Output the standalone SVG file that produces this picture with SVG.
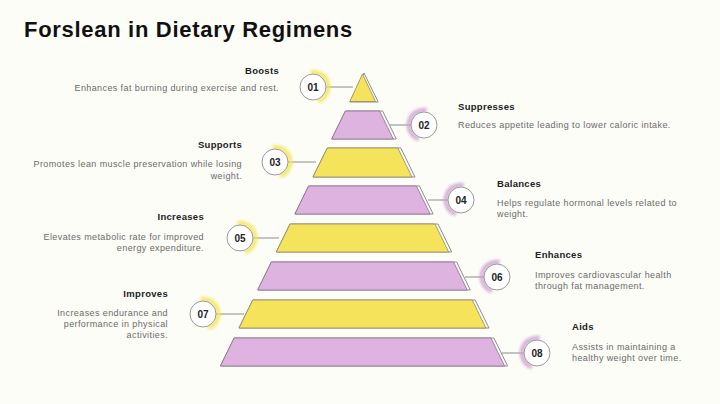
<svg xmlns="http://www.w3.org/2000/svg" xmlns:xlink="http://www.w3.org/1999/xlink" width="720" height="404" viewBox="0 0 720 404">
<defs>
<filter id="blur" x="-50%" y="-50%" width="200%" height="200%"><feGaussianBlur stdDeviation="1.8"/></filter>
<path id="arcR" d="M-2.6,-14.8 A15,15 0 0 1 5.1,14.1"/>
<path id="arcL" d="M-5.1,14.1 A15,15 0 0 1 2.6,-14.8"/>
</defs>
<style>
.title{font-family:"Liberation Sans",Arial,sans-serif;font-weight:bold;font-size:22px;letter-spacing:0.7px;fill:#111}
.h{font-family:"Liberation Sans",Arial,sans-serif;font-weight:bold;font-size:9.5px;letter-spacing:0.3px;fill:#222}
.d{font-family:"Liberation Sans",Arial,sans-serif;font-size:9px;letter-spacing:0.4px;fill:#6a6a6a}
.num{font-family:"Liberation Sans",Arial,sans-serif;font-weight:bold;font-size:10px;fill:#222;text-anchor:middle}
.back{fill:#ffffff;stroke:#8e8a8e;stroke-width:1}
.y{fill:#f6e35c;stroke:#8f8a60;stroke-width:0.8}
.p{fill:#dfb3df;stroke:#8a708a;stroke-width:0.8}
.circ{fill:#fff;stroke:#9a9a9a;stroke-width:1}
.gy{fill:none;stroke:#f3e652;stroke-width:4.5;opacity:0.85;filter:url(#blur)}
.gp{fill:none;stroke:#cfa2cf;stroke-width:4.5;opacity:0.85;filter:url(#blur)}
.con line{stroke:#8a8a8a;stroke-width:1}
.r{text-anchor:end}
</style>
<rect width="720" height="404" fill="#fdfdf8"/>
<text class="title" x="24" y="37">Forslean in Dietary Regimens</text>

<g id="pyramid">
<g id="layer1"><polygon class="back" points="364,73 378.2,102 349.8,102"/><polygon class="y" points="362.5,74 375.5,101.5 349.8,101.5"/></g>
<g id="layer2"><polygon class="back" points="345.4,111 382.6,111 396.3,139 331.7,139"/><polygon class="p" points="345.4,111 379.6,111 393.3,139 331.7,139"/></g>
<g id="layer3"><polygon class="back" points="327.3,148 400.8,148 415,177 313,177"/><polygon class="y" points="327.3,148 397.8,148 412,177 313,177"/></g>
<g id="layer4"><polygon class="back" points="308.6,186 419.4,186 433.1,214 294.9,214"/><polygon class="p" points="308.6,186 416.4,186 430.1,214 294.9,214"/></g>
<g id="layer5"><polygon class="back" points="290,224 438,224 451.7,252 276.3,252"/><polygon class="y" points="290,224 435,224 448.7,252 276.3,252"/></g>
<g id="layer6"><polygon class="back" points="271.4,262 456.6,262 470.3,290 257.7,290"/><polygon class="p" points="271.4,262 453.6,262 467.3,290 257.7,290"/></g>
<g id="layer7"><polygon class="back" points="252.8,300 475.2,300 489,328 239,328"/><polygon class="y" points="252.8,300 472.2,300 486,328 239,328"/></g>
<g id="layer8"><polygon class="back" points="234.1,338 493.9,338 507.6,366 220.4,366"/><polygon class="p" points="234.1,338 490.9,338 504.6,366 220.4,366"/></g>
</g>

<g id="connectors" class="con">
<line x1="326" y1="87" x2="353" y2="87"/>
<line x1="390" y1="125" x2="411" y2="125"/>
<line x1="288" y1="162" x2="316" y2="162"/>
<line x1="428" y1="200" x2="448" y2="200"/>
<line x1="253" y1="238" x2="279" y2="238"/>
<line x1="465" y1="277" x2="484" y2="277"/>
<line x1="216" y1="314" x2="244" y2="314"/>
<line x1="502" y1="353" x2="524" y2="353"/>
</g>

<g id="node01">
<g transform="translate(313,87)"><use xlink:href="#arcR" class="gy"/><circle class="circ" r="13"/><text class="num" y="3.6">01</text></g>
<text class="h r" x="279" y="74">Boosts</text>
<text class="d r" x="279" y="91">Enhances fat burning during exercise and rest.</text>
</g>
<g id="node02">
<g transform="translate(424,125)"><use xlink:href="#arcL" class="gp"/><circle class="circ" r="13"/><text class="num" y="3.6">02</text></g>
<text class="h" x="458" y="110">Suppresses</text>
<text class="d" x="458" y="128">Reduces appetite leading to lower caloric intake.</text>
</g>
<g id="node03">
<g transform="translate(275,162)"><use xlink:href="#arcR" class="gy"/><circle class="circ" r="13"/><text class="num" y="3.6">03</text></g>
<text class="h r" x="242" y="148">Supports</text>
<text class="d r" x="242" y="167">Promotes lean muscle preservation while losing</text>
<text class="d r" x="242" y="179">weight.</text>
</g>
<g id="node04">
<g transform="translate(461,200)"><use xlink:href="#arcL" class="gp"/><circle class="circ" r="13"/><text class="num" y="3.6">04</text></g>
<text class="h" x="497" y="187">Balances</text>
<text class="d" x="497" y="206">Helps regulate hormonal levels related to</text>
<text class="d" x="497" y="217">weight.</text>
</g>
<g id="node05">
<g transform="translate(240,238)"><use xlink:href="#arcR" class="gy"/><circle class="circ" r="13"/><text class="num" y="3.6">05</text></g>
<text class="h r" x="204" y="220">Increases</text>
<text class="d r" x="204" y="240">Elevates metabolic rate for improved</text>
<text class="d r" x="204" y="251">energy expenditure.</text>
</g>
<g id="node06">
<g transform="translate(497,277)"><use xlink:href="#arcL" class="gp"/><circle class="circ" r="13"/><text class="num" y="3.6">06</text></g>
<text class="h" x="535" y="258">Enhances</text>
<text class="d" x="535" y="278">Improves cardiovascular health</text>
<text class="d" x="535" y="289">through fat management.</text>
</g>
<g id="node07">
<g transform="translate(203,314)"><use xlink:href="#arcR" class="gy"/><circle class="circ" r="13"/><text class="num" y="3.6">07</text></g>
<text class="h r" x="168" y="297">Improves</text>
<text class="d r" x="168" y="316">Increases endurance and</text>
<text class="d r" x="168" y="327">performance in physical</text>
<text class="d r" x="168" y="338">activities.</text>
</g>
<g id="node08">
<g transform="translate(537,353)"><use xlink:href="#arcL" class="gp"/><circle class="circ" r="13"/><text class="num" y="3.6">08</text></g>
<text class="h" x="572" y="330">Aids</text>
<text class="d" x="572" y="350">Assists in maintaining a</text>
<text class="d" x="572" y="361">healthy weight over time.</text>
</g>
</svg>
